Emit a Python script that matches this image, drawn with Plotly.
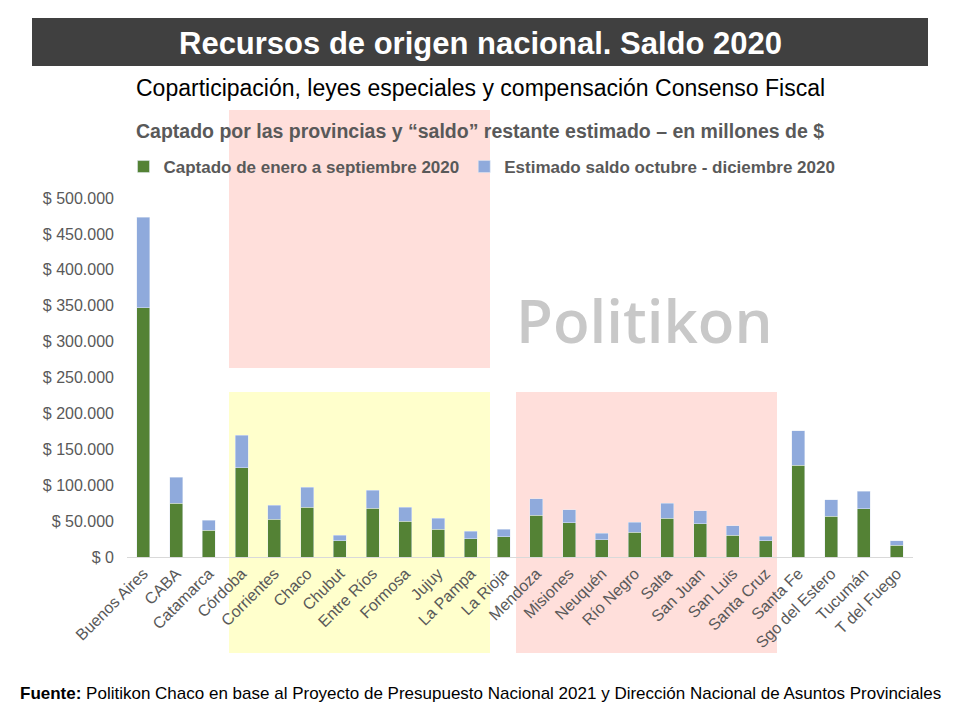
import plotly.graph_objects as go

provincias = ["Buenos Aires", "CABA", "Catamarca", "Córdoba", "Corrientes", "Chaco",
              "Chubut", "Entre Ríos", "Formosa", "Jujuy", "La Pampa", "La Rioja",
              "Mendoza", "Misiones", "Neuquén", "Río Negro", "Salta", "San Juan",
              "San Luis", "Santa Cruz", "Santa Fe", "Sgo del Estero", "Tucumán",
              "T del Fuego"]

# millones de $
captado = [347000, 75200, 37600, 124000, 52900, 69600, 22300, 68200, 50100, 39000,
           25100, 27900, 58500, 47400, 23700, 34800, 54300, 46000, 30600, 22300,
           128100, 57100, 66900, 16700]
saldo = [126500, 36200, 13900, 45900, 19500, 27900, 8300, 25100, 19500, 15300,
         11100, 11100, 22300, 18100, 9700, 13900, 20900, 18100, 12600, 6900,
         47400, 22300, 25000, 5600]

tick_vals = [0, 50000, 100000, 150000, 200000, 250000, 300000, 350000, 400000, 450000, 500000]
tick_text = ["$ 0", "$ 50.000", "$ 100.000", "$ 150.000", "$ 200.000", "$ 250.000",
             "$ 300.000", "$ 350.000", "$ 400.000", "$ 450.000", "$ 500.000"]

FONT = "Liberation Sans, Arial, sans-serif"
GRAY = "#595959"

# the page puts the figure 8px in from the corner; positions below are page pixels
OFF = 8
L, R, T, B = 127, 913, 198, 557


def px(x):
    return (x - L) / (R - L)


def py(y):
    return (B - y) / (B - T)


fig = go.Figure()
fig.add_trace(go.Bar(x=provincias, y=captado, name="<b>Captado de enero a septiembre 2020</b>",
                     marker_color="#548235"))
fig.add_trace(go.Bar(x=provincias, y=saldo, name="<b>Estimado saldo octubre - diciembre 2020</b>",
                     marker_color="#8faadc"))

shapes = [
    dict(type="rect", xref="paper", yref="paper", x0=px(32), x1=px(928), y0=py(66), y1=py(18),
         fillcolor="#404040", line_width=0, layer="below"),
    dict(type="rect", xref="paper", yref="paper", x0=px(229), x1=px(490), y0=py(368), y1=py(110),
         fillcolor="#ffdfdb", line_width=0, layer="below"),
    dict(type="rect", xref="paper", yref="paper", x0=px(229), x1=px(490), y0=py(653), y1=py(392),
         fillcolor="#ffffcc", line_width=0, layer="below"),
    dict(type="rect", xref="paper", yref="paper", x0=px(516), x1=px(777), y0=py(653), y1=py(392),
         fillcolor="#ffdfdb", line_width=0, layer="below"),
]

annotations = [
    dict(text="<b>Recursos de origen nacional. Saldo 2020</b>", x=px(480), y=py(43),
         font=dict(size=31, color="white", family=FONT)),
    dict(text="Coparticipación, leyes especiales y compensación Consenso Fiscal",
         x=px(480), y=py(88), font=dict(size=23, color="black", family=FONT)),
    dict(text="<b>Captado por las provincias y “saldo” restante estimado – en millones de $</b>",
         x=px(480), y=py(131), font=dict(size=19.5, color=GRAY, family=FONT)),
    dict(text="Politikon", x=px(644), y=py(320),
         font=dict(size=60, color="#c8c8c8", family="Open Sans", weight=600)),
    dict(text="<b>Fuente:</b> Politikon Chaco en base al Proyecto de Presupuesto Nacional 2021 "
              "y Dirección Nacional de Asuntos Provinciales",
         x=px(480), y=py(693), font=dict(size=17, color="black", family=FONT)),
]
for a in annotations:
    a.update(xref="paper", yref="paper", showarrow=False, xanchor="center", yanchor="middle")

fig.update_layout(
    width=960, height=720,
    margin=dict(l=L - OFF, r=960 - R + OFF, t=T - OFF, b=720 - B + OFF),
    barmode="stack", bargap=0.6,
    paper_bgcolor="white", plot_bgcolor="rgba(0,0,0,0)",
    font=dict(family=FONT, color=GRAY, size=16),
    shapes=shapes, annotations=annotations,
    legend=dict(orientation="h", x=px(482), xanchor="center", y=py(167), yanchor="middle",
                font=dict(size=17, color=GRAY), traceorder="normal",
                bgcolor="rgba(0,0,0,0)", itemwidth=30),
)
fig.update_xaxes(tickangle=-45, showgrid=False, showline=True, linecolor="#d9d9d9",
                 ticks="", tickfont=dict(size=16, color=GRAY))
fig.update_yaxes(range=[0, 500000], tickvals=tick_vals, ticktext=tick_text, showgrid=False,
                 zeroline=False, showline=False, ticks="", ticklabelstandoff=12,
                 tickfont=dict(size=16, color=GRAY))

fig.write_html("out.html")
